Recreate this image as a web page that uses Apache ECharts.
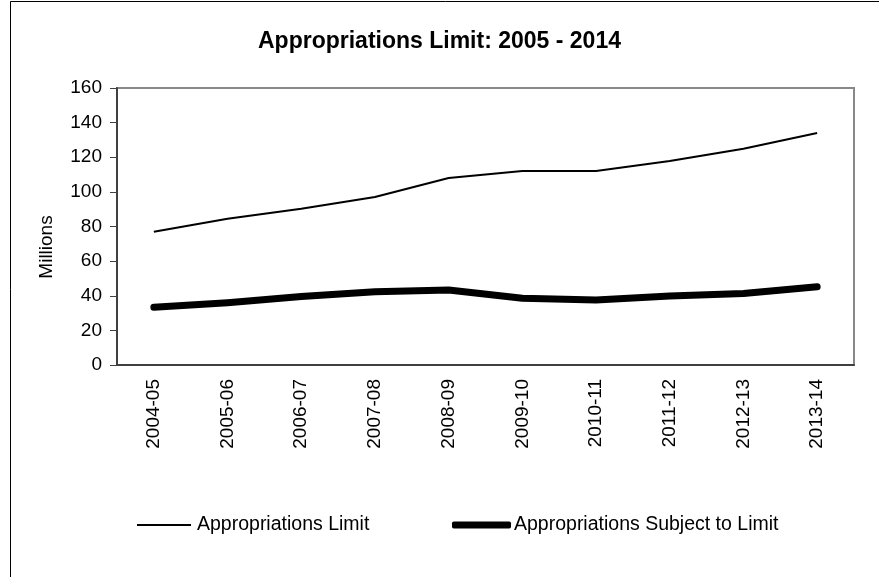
<!DOCTYPE html>
<html>
<head>
<meta charset="utf-8">
<title>Appropriations Limit</title>
<script src="https://cdn.jsdelivr.net/npm/echarts@6/dist/echarts.min.js"></script>
<style>
  html, body { margin: 0; padding: 0; background: #fff; }
  #chart { width: 879px; height: 577px; }
</style>
</head>
<body>
<div id="chart"></div>
<script>
// fiscal years on the x axis
const years = ['2004-05', '2005-06', '2006-07', '2007-08', '2008-09',
  '2009-10', '2010-11', '2011-12', '2012-13', '2013-14'];

// values in millions
const limitValues = [77, 84.5, 90.3, 97, 108, 112, 112, 117.8, 124.9, 134];
const subjectValues = [33.3, 36, 39.6, 42.3, 43.3, 38.5, 37.5, 39.8, 41.3, 45.2];

const yTicks = { min: 0, max: 160, interval: 20 };

const font = 'Liberation Sans, Arial, sans-serif';

const chart = echarts.init(document.getElementById('chart'));

chart.setOption({
  animation: false,
  backgroundColor: '#fff',
  title: {
    text: 'Appropriations Limit: 2005 - 2014',
    left: 'center',
    top: 25,
    textStyle: { fontFamily: font, fontSize: 23, fontWeight: 'bold', color: '#000' }
  },
  graphic: [{
    // outer chart frame
    type: 'rect',
    shape: { x: 10.5, y: 1.5, width: 880, height: 590 },
    style: { fill: null, stroke: '#000', lineWidth: 1 },
    silent: true
  }, {
    // y axis title
    type: 'text',
    x: 47,
    y: 247,
    rotation: Math.PI / 2,
    style: {
      text: 'Millions',
      fontFamily: font,
      fontSize: 19,
      fill: '#000',
      align: 'center',
      verticalAlign: 'middle'
    },
    silent: true
  }],
  legend: [{
    data: ['Appropriations Limit'],
    left: 132,
    top: 510,
    icon: 'rect',
    itemWidth: 54,
    itemHeight: 2,
    itemGap: 0,
    textStyle: { fontFamily: font, fontSize: 19.5, color: '#000', padding: [0, 0, 0, 1] }
  }, {
    data: ['Appropriations Subject to Limit'],
    left: 447,
    top: 510,
    icon: 'roundRect',
    itemWidth: 59,
    itemHeight: 7,
    itemGap: 0,
    textStyle: { fontFamily: font, fontSize: 19.5, color: '#000', padding: [0, 0, 0, -2] }
  }],
  grid: {
    left: 117,
    right: 25,
    top: 88,
    bottom: 212,
    show: true,
    borderColor: '#888',
    borderWidth: 2
  },
  xAxis: {
    type: 'category',
    data: years,
    boundaryGap: true,
    axisLine: { lineStyle: { color: '#404040', width: 2 } },
    axisTick: { show: false },
    axisLabel: {
      rotate: 90,
      margin: 14,
      fontFamily: font,
      fontSize: 19,
      color: '#000'
    }
  },
  yAxis: {
    type: 'value',
    min: yTicks.min,
    max: yTicks.max,
    interval: yTicks.interval,
    axisLine: { show: true, lineStyle: { color: '#404040', width: 2 } },
    axisTick: { show: true, length: 7, lineStyle: { color: '#404040', width: 1 } },
    splitLine: { show: false },
    axisLabel: { margin: 15, fontFamily: font, fontSize: 19, color: '#000' }
  },
  series: [{
    name: 'Appropriations Limit',
    type: 'line',
    data: limitValues,
    showSymbol: false,
    symbol: 'none',
    lineStyle: { color: '#000', width: 2 },
    itemStyle: { color: '#000' }
  }, {
    name: 'Appropriations Subject to Limit',
    type: 'line',
    data: subjectValues,
    showSymbol: false,
    symbol: 'none',
    lineStyle: { color: '#000', width: 7, cap: 'round', join: 'round' },
    itemStyle: { color: '#000' }
  }]
});

window.addEventListener('resize', () => chart.resize());
</script>
</body>
</html>
